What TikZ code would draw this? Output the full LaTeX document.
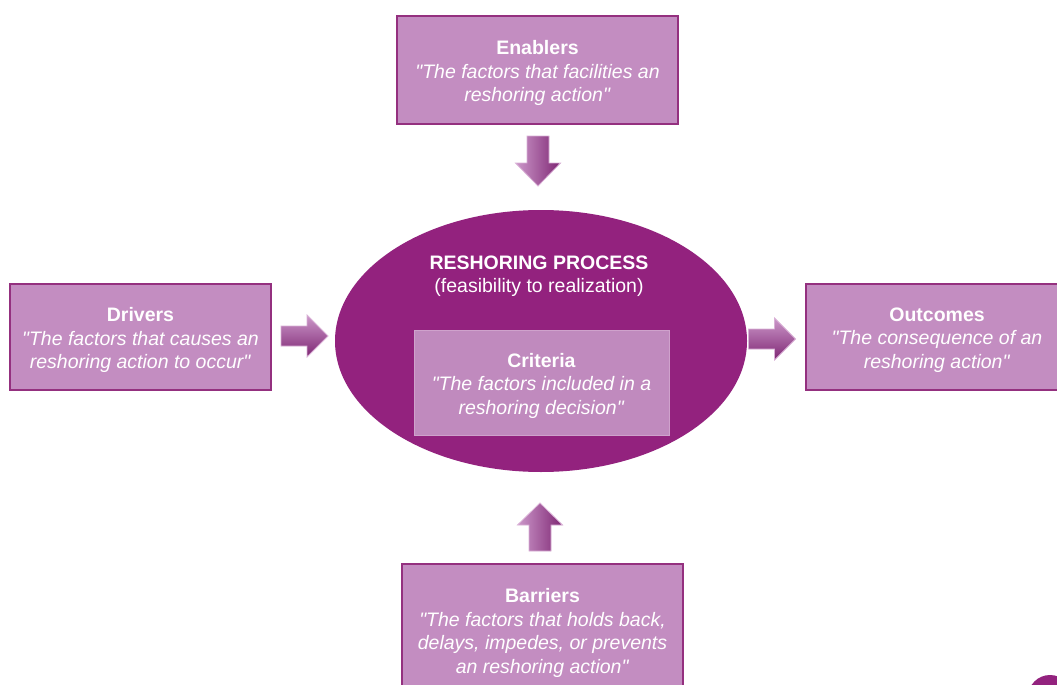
\documentclass[tikz,border=0pt]{standalone}
\usepackage{fontspec}
\setmainfont[Ligatures=TeXOff]{Liberation Sans}
\usetikzlibrary{shapes.geometric,calc}
\definecolor{boxfill}{HTML}{C38DC1}
\definecolor{boxline}{HTML}{94307F}
\definecolor{ellfill}{HTML}{93227E}
\definecolor{critfill}{HTML}{C08ABE}
\definecolor{critline}{HTML}{CFA2CC}
\definecolor{arrlight}{HTML}{CC98CA}
\definecolor{arrdark}{HTML}{7E2673}
\definecolor{arredge}{HTML}{D9B0D6}
\tikzset{
  txt/.style={text=white, align=center, inner sep=0pt, font=\fontsize{19.5}{23.5}\selectfont},
  infobox/.style={draw=boxline, line width=1.5pt, fill=boxfill, inner sep=0pt},
  critbox/.style={draw=critline, line width=1pt, fill=critfill, inner sep=0pt,
    minimum width=255pt, minimum height=105pt},
  hshade/.style={top color=arrlight, bottom color=arrdark, draw=arredge, line width=0.8pt},
  vshade/.style={left color=arrlight, right color=arrdark, draw=arredge, line width=0.8pt},
  pics/arrowright/.style={code={
    \path[hshade] (-23.5,-10) -- (2.5,-10) -- (2.5,-21) -- (23.5,0) -- (2.5,21) -- (2.5,10) -- (-23.5,10) -- cycle;}},
  pics/arrowdown/.style={code={
    \path[vshade] (-11,-25) -- (11,-25) -- (11,2) -- (22.5,2) -- (0,25) -- (-22.5,2) -- (-11,2) -- cycle;}},
  pics/arrowup/.style={code={
    \path[vshade] (-11,24) -- (11,24) -- (11,-2) -- (22.5,-2) -- (0,-24) -- (-22.5,-2) -- (-11,-2) -- cycle;}},
}
\begin{document}
\begin{tikzpicture}[x=1pt,y=-1pt]
\clip (0,0) rectangle (1057,685);
\fill[white] (0,0) rectangle (1057,685);

% central ellipse
\node[ellipse, fill=ellfill, minimum width=412pt, minimum height=262pt, inner sep=0pt] (proc) at (541,341) {};
\node[txt] (proctitle) at (539,276) {\textbf{RESHORING PROCESS}\\(feasibility to realization)};
\node[critbox] (crit) at (541.5,382.5) {};
\node[txt] (crittxt) at ($(crit)+(0,3)$) {\textbf{Criteria}\\\textit{"The factors included in a}\\\textit{reshoring decision"}};

% outer boxes
\node[infobox, minimum width=281pt, minimum height=108pt] (enab) at (537.5,70) {};
\node[txt] (enabtxt) at ($(enab)+(0,3)$) {\textbf{Enablers}\\\textit{"The factors that facilities an}\\\textit{reshoring action"}};
\node[infobox, minimum width=261pt, minimum height=106pt] (driv) at (140.5,337) {};
\node[txt] (drivtxt) at ($(driv)+(0,3)$) {\textbf{Drivers}\\\textit{"The factors that causes an}\\\textit{reshoring action to occur"}};
\node[infobox, minimum width=262pt, minimum height=106pt] (outc) at (937,337) {};
\node[txt] (outctxt) at ($(outc)+(0,3)$) {\textbf{Outcomes}\\\textit{"The consequence of an}\\\textit{reshoring action"}};
\node[infobox, minimum width=281pt, minimum height=132pt] (barr) at (542.5,630) {};
\node[txt] (barrtxt) at ($(barr)+(0,3)$) {\textbf{Barriers}\\\textit{"The factors that holds back,}\\\textit{delays, impedes, or prevents}\\\textit{an reshoring action"}};

% block arrows
\coordinate (aEnab) at (538,161);
\coordinate (aDriv) at (304.5,336);
\coordinate (aOutc) at (772,339);
\coordinate (aBarr) at (540,527);
\pic at (aEnab) {arrowdown};
\pic at (aDriv) {arrowright};
\pic at (aOutc) {arrowright};
\pic at (aBarr) {arrowup};

% logo fragment at the corner
\fill[ellfill] (1050,697) circle (22);
\end{tikzpicture}
\end{document}
